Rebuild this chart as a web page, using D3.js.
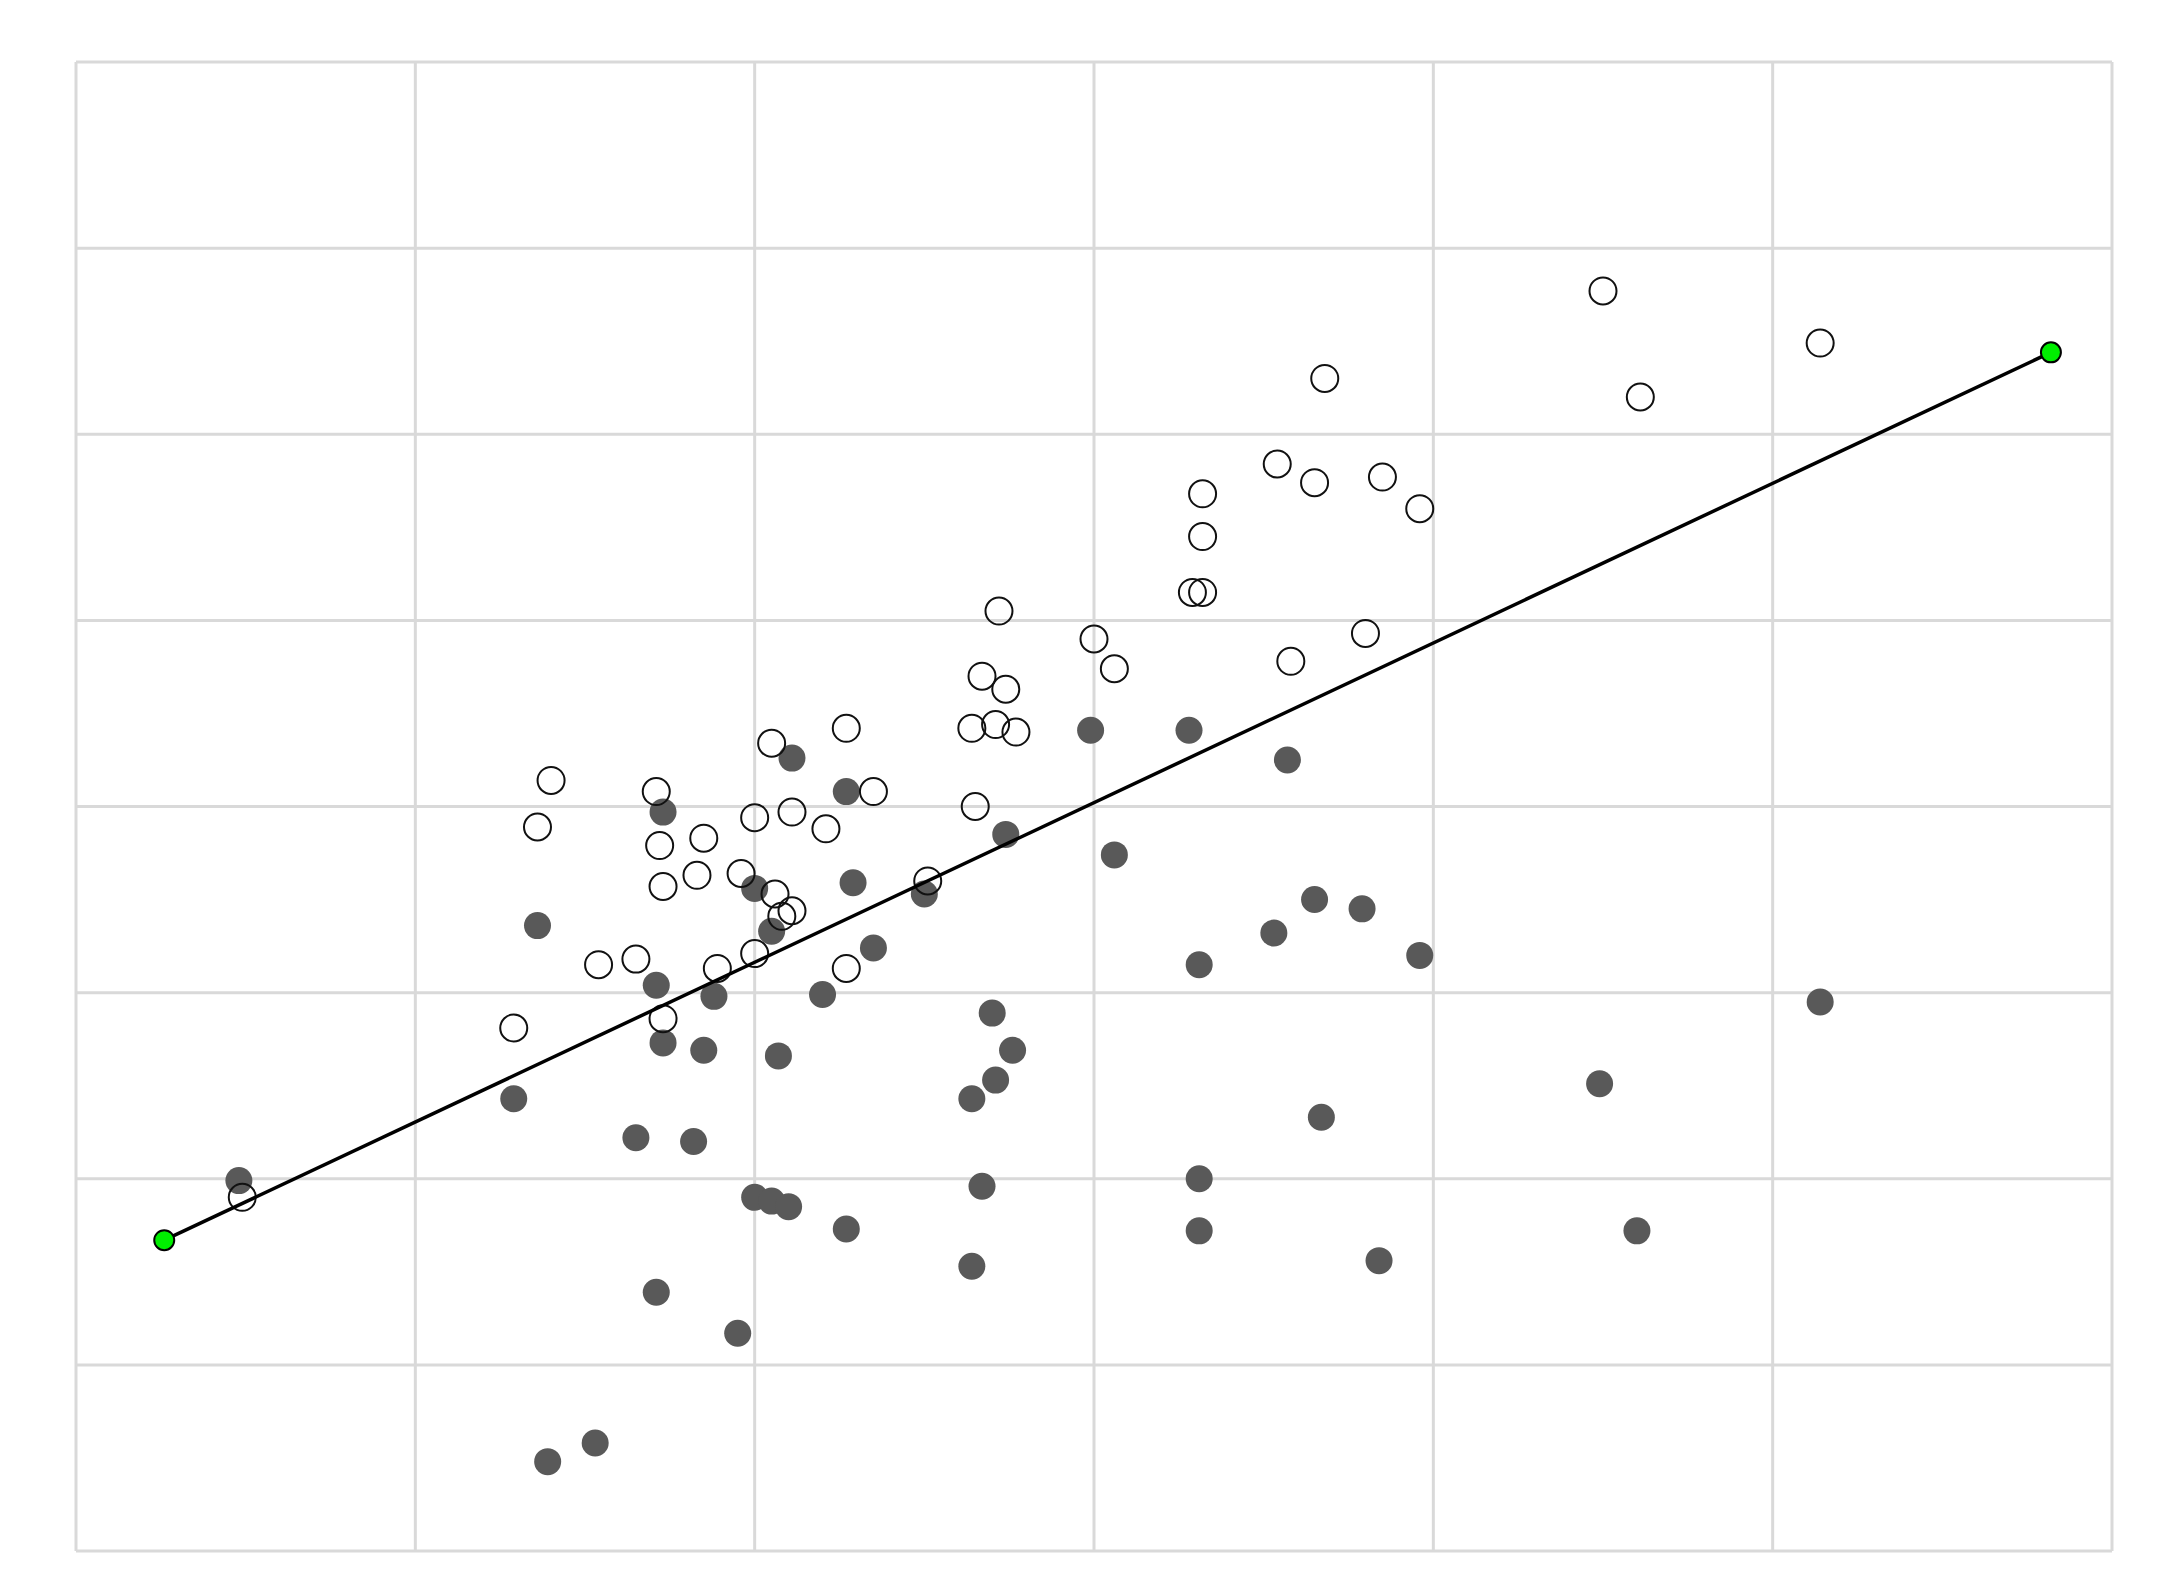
<!DOCTYPE html>
<html><head><meta charset="utf-8">
<script src="https://cdn.jsdelivr.net/npm/d3@7"></script>
<style>body{margin:0;background:#fff}</style>
</head><body>
<svg id="chart" width="2161" height="1589"></svg>
<script>
// open circles (upper group)
var openX = [4.50,5.14,4.61,3.68,3.54,3.65,3.85,3.96,3.32,3.32,3.29,3.32,2.72,3.00,3.06,3.80,3.58,2.67,2.74,2.64,2.71,2.77,2.27,2.05,1.40,1.71,2.35,1.36,2.00,2.11,2.21,1.72,1.85,2.65,1.73,1.83,1.96,2.06,2.11,2.08,2.51,1.54,1.65,1.89,2.00,2.27,1.73,1.29,0.49]
var openY = [6.77,6.49,6.20,6.30,5.84,5.74,5.77,5.60,5.68,5.45,5.15,5.15,5.05,4.90,4.74,4.93,4.78,4.70,4.63,4.42,4.44,4.40,4.42,4.34,4.14,4.08,4.08,3.89,3.94,3.97,3.88,3.79,3.83,4.00,3.57,3.63,3.64,3.53,3.44,3.41,3.60,3.15,3.18,3.13,3.21,3.13,2.86,2.81,1.90]
// filled circles (lower group)
var fillX = [2.11,2.27,1.73,2.99,3.28,3.57,2.74,3.06,2.29,2.00,2.50,2.05,2.35,1.36,3.65,3.79,3.53,3.96,3.31,1.71,1.88,2.20,5.14,2.70,1.73,1.85,2.07,2.76,2.71,2.64,1.29,4.49,3.67,1.65,1.82,3.31,0.48,2.67,2.00,2.05,2.10,2.27,3.31,4.60,2.64,3.84,1.71,1.95,1.53,1.39]
var fillY = [4.26,4.08,3.97,4.41,4.41,4.25,3.85,3.74,3.59,3.56,3.53,3.33,3.24,3.36,3.50,3.45,3.32,3.20,3.15,3.04,2.98,2.99,2.95,2.89,2.73,2.69,2.66,2.69,2.53,2.43,2.43,2.51,2.33,2.22,2.20,2.00,1.99,1.96,1.90,1.88,1.85,1.73,1.72,1.72,1.53,1.56,1.39,1.17,0.58,0.48]
// fitted line endpoints
var lineX = [0.26, 5.82]
var lineY = [1.67, 6.44]

var svg = d3.select('#chart')
var x = d3.scaleLinear().domain([0,6]).range([76,2112])
var y = d3.scaleLinear().domain([0,8]).range([1551,62])

svg.append('g').selectAll('line').data(d3.range(0,7)).enter().append('line')
	.attr('x1', d => x(d)).attr('x2', d => x(d)).attr('y1', y(0)).attr('y2', y(8))
	.attr('stroke', '#d9d9d9').attr('stroke-width', 3)
svg.append('g').selectAll('line').data(d3.range(0,9)).enter().append('line')
	.attr('y1', d => y(d)).attr('y2', d => y(d)).attr('x1', x(0)).attr('x2', x(6))
	.attr('stroke', '#d9d9d9').attr('stroke-width', 3)

svg.append('g').selectAll('circle').data(fillX).enter().append('circle')
	.attr('cx', d => x(d)).attr('cy', (d,i) => y(fillY[i])).attr('r', 13.5)
	.attr('fill', '#595959')
svg.append('g').selectAll('circle').data(openX).enter().append('circle')
	.attr('cx', d => x(d)).attr('cy', (d,i) => y(openY[i])).attr('r', 13.5)
	.attr('fill', 'none').attr('stroke', '#111').attr('stroke-width', 2)

svg.append('line')
	.attr('x1', x(lineX[0])).attr('y1', y(lineY[0])).attr('x2', x(lineX[1])).attr('y2', y(lineY[1]))
	.attr('stroke', '#000').attr('stroke-width', 3.5)
svg.append('g').selectAll('circle').data(lineX).enter().append('circle')
	.attr('cx', d => x(d)).attr('cy', (d,i) => y(lineY[i])).attr('r', 10)
	.attr('fill', '#00ee00').attr('stroke', '#000').attr('stroke-width', 2)
</script>
</body></html>
